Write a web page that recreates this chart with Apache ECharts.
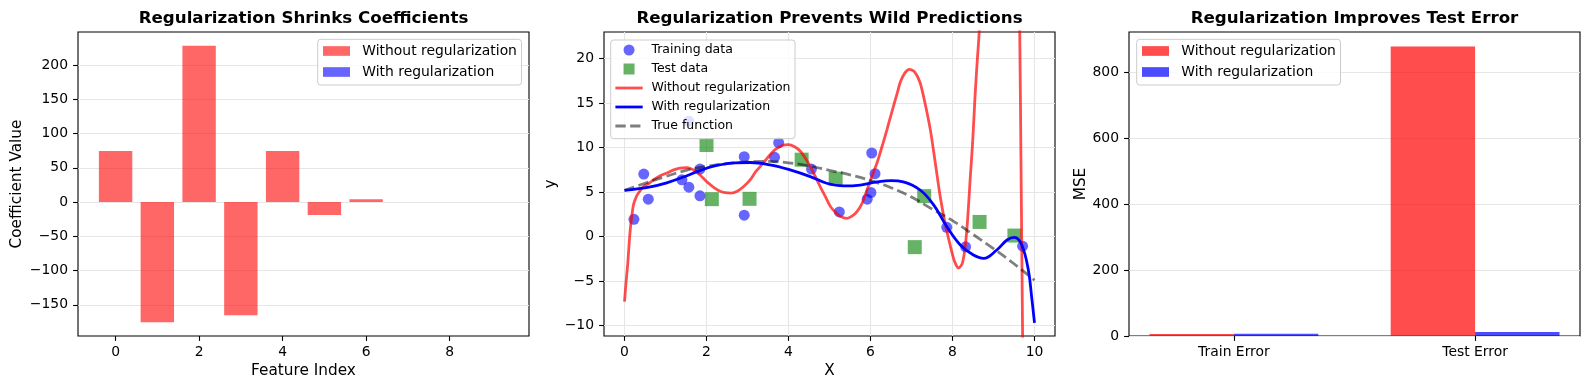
<!DOCTYPE html>
<html><head><meta charset="utf-8">
<script src="https://cdn.jsdelivr.net/npm/echarts@6/dist/echarts.min.js"></script>
<style>html,body{margin:0;padding:0;background:#fff}#c{width:1590px;height:390px}</style>
</head><body><div id="c"></div>
<script>
// ---------- Panel 1: coefficients ----------
const featureIndex = [0, 1, 2, 3, 4, 5, 6, 7, 8, 9];
const coefNoReg = [74.5, -175.4, 228.3, -165.2, 74.5, -18.7, 4.2, 0, 0, 0];
const coefReg = [0, 0, 0, 0, 0, 0, 0, 0, 0, 0];
const coefXTicks = [0, 2, 4, 6, 8];
const coefYTicks = [-150, -100, -50, 0, 50, 100, 150, 200];

// ---------- Panel 2: predictions ----------
const trainX = [0.23, 0.47, 0.58, 1.40, 1.57, 1.57, 1.84, 1.84, 2.92, 2.92, 3.66, 3.76, 4.56, 5.24, 5.92, 6.01, 6.03, 6.11, 7.86, 8.32, 9.71];
const trainY = [1.95, 7.03, 4.21, 6.39, 5.56, 12.97, 7.59, 4.59, 8.98, 2.41, 8.91, 10.55, 7.59, 2.78, 4.21, 4.96, 9.40, 7.07, 1.04, -1.15, -1.08];
const testX = [2.00, 2.13, 3.05, 4.32, 5.15, 7.08, 7.31, 8.66, 9.51];
const testY = [10.30, 4.21, 4.25, 8.65, 6.52, -1.18, 4.55, 1.65, 0.12];

const fitNoRegX = [0.00, 0.04, 0.08, 0.11, 0.14, 0.18, 0.22, 0.28, 0.34, 0.46, 0.60, 0.71, 0.85, 1.03, 1.20, 1.35, 1.50, 1.64, 1.75, 1.85,
  2.00, 2.09, 2.20, 2.33, 2.45, 2.60, 2.75, 2.90, 3.07, 3.20, 3.39, 3.55, 3.68, 3.85, 4.00, 4.15, 4.29, 4.40, 4.53, 4.65,
  4.77, 4.90, 5.02, 5.15, 5.26, 5.42, 5.55, 5.67, 5.80, 5.91, 6.03, 6.16, 6.28, 6.40, 6.52, 6.65, 6.73, 6.84, 6.95, 7.08,
  7.21, 7.33, 7.46, 7.58, 7.70, 7.82, 7.95, 8.05, 8.15, 8.24, 8.31, 8.37, 8.43, 8.49, 8.55, 8.60, 8.65, 8.75, 9.00, 9.25,
  9.45, 9.55, 9.60, 9.64, 9.675, 9.71, 9.75, 9.85, 10.00];
const fitNoRegY = [-7.3, -5.0, -3.0, -1.0, 0.75, 2.4, 3.6, 4.4, 4.9, 5.6, 6.0, 6.4, 6.8, 7.15, 7.5, 7.7, 7.75, 7.6, 7.3, 6.9,
  6.2, 5.85, 5.45, 5.1, 4.95, 4.9, 5.1, 5.6, 6.4, 7.3, 8.3, 9.2, 9.8, 10.25, 10.35, 10.1, 9.6, 8.9, 7.9, 6.8,
  5.65, 4.5, 3.4, 2.7, 2.3, 2.05, 2.3, 2.8, 3.8, 5.2, 6.7, 8.3, 10.1, 12.0, 14.0, 16.1, 17.4, 18.4, 18.8, 18.5,
  17.3, 15.0, 12.0, 8.3, 4.5, 1.5, -1.1, -2.8, -3.55, -3.0, -1.1, 2.0, 6.4, 10.5, 15.8, 19.5, 22.9, 33, 60, 72,
  60, 45, 33, 23, 6, -11.2, -30, -90, -250];

const fitRegX = [0.00, 0.63, 1.03, 1.44, 1.85, 2.25, 2.70, 3.07, 3.55, 4.04, 4.53, 4.93, 5.34, 5.75, 6.16, 6.50, 6.80, 7.21, 7.54, 7.86,
  8.19, 8.51, 8.76, 9.08, 9.33, 9.51, 9.69, 9.85, 9.93, 10.00];
const fitRegY = [5.2, 5.6, 6.05, 6.7, 7.45, 8.0, 8.3, 8.33, 8.07, 7.5, 6.75, 6.0, 5.7, 5.8, 6.15, 6.3, 6.15, 5.24, 3.57, 1.13,
  -0.94, -2.07, -2.44, -1.5, -0.38, -0.08, -0.94, -3.76, -6.76, -9.69];

const trueX = [0, 0.5, 1, 1.5, 2, 2.5, 3, 3.5, 4, 4.5, 5, 5.5, 6, 6.5, 7, 7.5, 8, 8.5, 9, 9.5, 10];
const trueY = [5.2, 6.0, 6.75, 7.45, 7.9, 8.2, 8.4, 8.45, 8.3, 7.95, 7.45, 6.95, 6.3, 5.5, 4.45, 3.1, 1.8, 0.25, -1.35, -3.05, -4.9];
const predXTicks = [0, 2, 4, 6, 8, 10];
const predYTicks = [-10, -5, 0, 5, 10, 15, 20];

// ---------- Panel 3: errors ----------
const errorCategories = ['Train Error', 'Test Error'];
const mseNoReg = [6.0, 879.8];
const mseReg = [6.5, 12.2];
const mseYTicks = [0, 200, 400, 600, 800];

// ---------- styling ----------
const FONT = "'DejaVu Sans', sans-serif";
const GRIDLINE = '#e6e6e6';
const minus = v => String(v).replace('-', '\u2212');
const grids = [
  {left: 78, top: 32, width: 451, height: 304},
  {left: 604, top: 32, width: 451, height: 304},
  {left: 1129, top: 32, width: 451, height: 304}
];

function axis(gridIndex, min, max, ticks, extra) {
  const a = {
    type: 'value', gridIndex, min, max,
    axisLine: {show: false, onZero: false},
    axisTick: {show: true, inside: false, length: 4.9, customValues: ticks, lineStyle: {color: '#000', width: 1.1}},
    axisLabel: {customValues: ticks, color: '#000', fontFamily: FONT, fontSize: 13.9, margin: 9, formatter: minus},
    splitLine: {show: !!extra.grid, lineStyle: {color: GRIDLINE, width: 1.1}},
    nameLocation: 'middle',
    nameTextStyle: {color: '#000', fontFamily: FONT, fontSize: 15.3},
    name: extra.name || '', nameGap: extra.nameGap || 0
  };
  if (extra.formatter) a.axisLabel.formatter = extra.formatter;
  if (extra.labelMargin) a.axisLabel.margin = extra.labelMargin;
  return a;
}

function barSeries(name, idx, xs, ys, width, offset, color) {
  return {
    type: 'custom', name, xAxisIndex: idx, yAxisIndex: idx,
    data: xs.map((x, i) => [x, ys[i]]),
    encode: {x: 0, y: 1},
    itemStyle: {color},
    z: 2,
    renderItem(params, api) {
      const x = api.value(0) + offset, y = api.value(1);
      const a = api.coord([x - width / 2, 0]);
      const b = api.coord([x + width / 2, y]);
      const h = Math.abs(b[1] - a[1]);
      if (h < 0.05) return null;
      return {type: 'rect', shape: {x: a[0], y: Math.min(a[1], b[1]), width: b[0] - a[0], height: h},
        style: {fill: color}};
    }
  };
}

const C1R = 'rgba(255,0,0,0.6)', C1B = 'rgba(0,0,255,0.6)';
const C3R = 'rgba(255,0,0,0.7)', C3B = 'rgba(0,0,255,0.7)';
const pairs = (xs, ys) => xs.map((x, i) => [x, ys[i]]);
const SQUARE = 'path://M0,0H10V10H0Z';

const legendBase = {
  orient: 'vertical', selectedMode: false,
  backgroundColor: 'rgba(255,255,255,0.8)', borderColor: '#cccccc', borderWidth: 1, borderRadius: 3
};

const titles = ['Regularization Shrinks Coefficients', 'Regularization Prevents Wild Predictions', 'Regularization Improves Test Error'];

const option = {
  animation: false,
  backgroundColor: '#fff',
  grid: grids.map(g => Object.assign({show: true, borderColor: '#000', borderWidth: 1.1, backgroundColor: 'transparent'}, g)),
  xAxis: [
    axis(0, -0.9, 9.9, coefXTicks, {name: 'Feature Index', nameGap: 27}),
    axis(1, -0.5, 10.5, predXTicks, {name: 'X', nameGap: 27, grid: true}),
    axis(2, -0.435, 1.435, [0, 1], {formatter: v => errorCategories[Math.round(v)]})
  ],
  yAxis: [
    axis(0, -195.6, 248.5, coefYTicks, {name: 'Coefficient Value', nameGap: 53, grid: true, labelMargin: 10}),
    axis(1, -11.17, 23.0, predYTicks, {name: 'y', nameGap: 45, grid: true, labelMargin: 10}),
    axis(2, 0, 923.8, mseYTicks, {name: 'MSE', nameGap: 40, grid: true, labelMargin: 10})
  ],
  graphic: titles.map((t, i) => ({
    type: 'text', x: grids[i].left + grids[i].width / 2, y: 18.5,
    style: {text: t, font: 'bold 16.7px ' + FONT, fill: '#000', align: 'center', verticalAlign: 'middle'}
  })),
  legend: [
    Object.assign({}, legendBase, {
      left: 317.7, top: 39.3, padding: [4.2, 4.6, 5.5, 5.3], itemWidth: 27, itemHeight: 9.7, itemGap: 6,
      textStyle: {fontFamily: FONT, fontSize: 13.9, color: '#000', lineHeight: 15, padding: [0, 0, 0, 7.3]},
      data: [{name: 'Without regularization', icon: 'rect', itemStyle: {color: C1R}},
             {name: 'With regularization', icon: 'rect', itemStyle: {color: C1B}}]
    }),
    Object.assign({}, legendBase, {
      left: 610.7, top: 40, padding: [3.5, 4.5, 6.2, 3.3], itemWidth: 27.3, itemHeight: 11, itemGap: 6,
      formatter: n => n.trim(),
      lineStyle: {width: 2.78},
      textStyle: {fontFamily: FONT, fontSize: 12.5, color: '#000', lineHeight: 13, padding: [0, 0, 0, 3.7]},
      data: [
        {name: 'Training data', icon: 'circle', itemStyle: {color: 'rgba(0,0,255,0.6)', opacity: 1}},
        {name: 'Test data', icon: SQUARE, itemStyle: {color: 'rgba(0,128,0,0.6)', opacity: 1}},
        {name: 'Without regularization ', itemStyle: {opacity: 0}},
        {name: 'With regularization ', itemStyle: {opacity: 0}},
        {name: 'True function', itemStyle: {opacity: 0}}
      ]
    }),
    Object.assign({}, legendBase, {
      left: 1136.7, top: 39.3, padding: [4.2, 4.6, 5.5, 5.3], itemWidth: 27, itemHeight: 9.7, itemGap: 6,
      textStyle: {fontFamily: FONT, fontSize: 13.9, color: '#000', lineHeight: 15, padding: [0, 0, 0, 7.3]},
      data: [{name: 'Without regularization', icon: 'rect', itemStyle: {color: C3R}},
             {name: 'With regularization', icon: 'rect', itemStyle: {color: C3B}}]
    })
  ],
  series: [
    barSeries('Without regularization', 0, featureIndex, coefNoReg, 0.8, 0, C1R),
    barSeries('With regularization', 0, featureIndex, coefReg, 0.8, 0, C1B),
    {type: 'scatter', name: 'Training data', xAxisIndex: 1, yAxisIndex: 1, data: pairs(trainX, trainY),
      symbol: 'circle', symbolSize: 11, itemStyle: {color: 'rgba(0,0,255,0.6)', opacity: 1}, z: 2},
    {type: 'scatter', name: 'Test data', xAxisIndex: 1, yAxisIndex: 1, data: pairs(testX, testY),
      symbol: 'rect', symbolSize: 14, itemStyle: {color: 'rgba(0,128,0,0.6)', opacity: 1}, z: 2},
    {type: 'line', name: 'Without regularization ', xAxisIndex: 1, yAxisIndex: 1, data: pairs(fitNoRegX, fitNoRegY),
      symbol: 'none', showSymbol: false, smooth: 0.25, clip: true,
      lineStyle: {color: 'rgba(255,0,0,0.7)', width: 2.78}, itemStyle: {color: 'rgba(255,0,0,0.7)'}, z: 3},
    {type: 'line', name: 'With regularization ', xAxisIndex: 1, yAxisIndex: 1, data: pairs(fitRegX, fitRegY),
      symbol: 'none', showSymbol: false, smooth: 0.4, clip: true,
      lineStyle: {color: '#0000ff', width: 2.78}, itemStyle: {color: '#0000ff'}, z: 4},
    {type: 'line', name: 'True function', xAxisIndex: 1, yAxisIndex: 1, data: pairs(trueX, trueY),
      symbol: 'none', showSymbol: false, smooth: 0.4, clip: true,
      lineStyle: {color: 'rgba(0,0,0,0.5)', width: 2.78, type: [10.3, 4.45]}, itemStyle: {color: 'rgba(0,0,0,0.5)'}, z: 3},
    barSeries('Without regularization', 2, [0, 1], mseNoReg, 0.35, -0.175, C3R),
    barSeries('With regularization', 2, [0, 1], mseReg, 0.35, 0.175, C3B)
  ]
};

const chart = echarts.init(document.getElementById('c'), null, {renderer: 'canvas'});
chart.setOption(option);
</script></body></html>
